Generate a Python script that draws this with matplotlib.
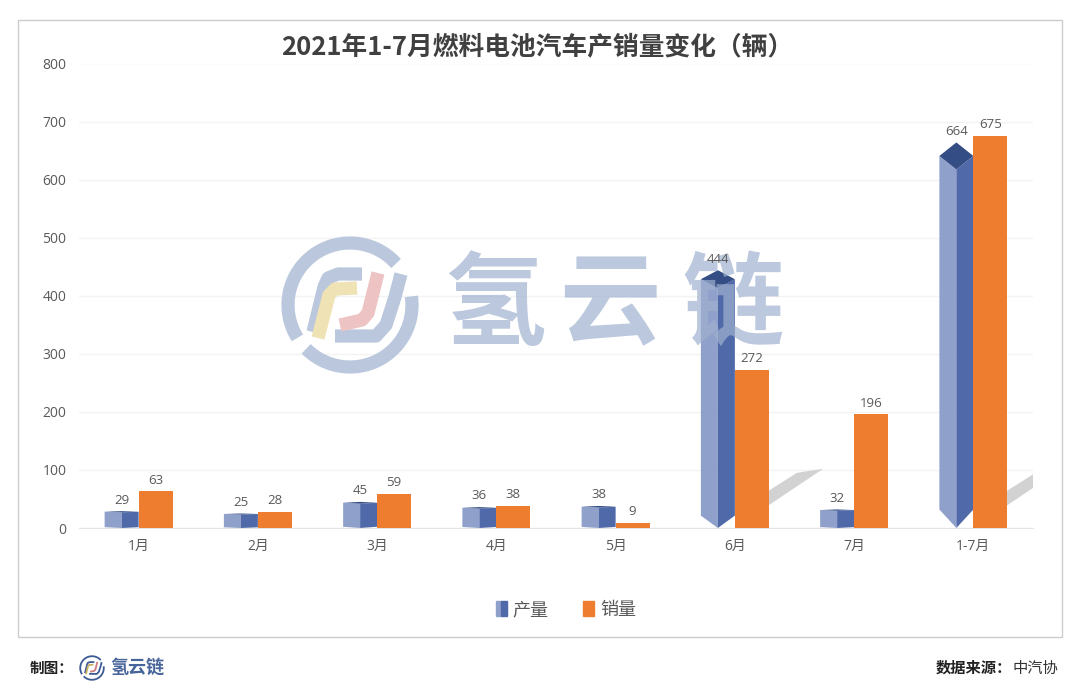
import matplotlib
matplotlib.use('Agg')
import numpy as np
import matplotlib.pyplot as plt
from matplotlib.patches import Patch, Rectangle
from matplotlib.legend_handler import HandlerTuple

plt.rcParams['font.family'] = ['Noto Sans CJK SC', 'DejaVu Sans']

# === data ===
months = ['1月', '2月', '3月', '4月', '5月', '6月', '7月', '1-7月']
production = [29, 25, 45, 36, 38, 444, 32, 664]
sales = [63, 28, 59, 38, 9, 272, 196, 675]
y_ticks = [0, 100, 200, 300, 400, 500, 600, 700, 800]

W, H = 1080, 697
GREY = '#595959'
ORANGE = '#ee7d2f'
BLUE_LIGHT = '#8fa0ca'
BLUE_MID = '#5069a9'
BLUE_TOP = '#354d85'
MARK = '#bac7dd'
BAR_W = 34 / 119.25
NUM_FONT = ['Open Sans', 'Noto Sans CJK SC']


def px_axes(fig, left, top, right, bottom, **kw):
    return fig.add_axes([left / W, 1 - bottom / H, (right - left) / W, (bottom - top) / H], **kw)


def draw_logo(ax, cx, cy, s, ring, yellow, pink, lw, zorder=5):
    # logo strokes, offsets in px of the big watermark version
    def stroke(pts, color):
        xs = [cx + p[0] * s for p in pts]
        ys = [cy + p[1] * s for p in pts]
        ax.plot(xs, ys, color=color, lw=lw, solid_capstyle='butt', solid_joinstyle='round', zorder=zorder)

    t = np.radians(np.linspace(42, 212, 60))
    stroke(list(zip(62 * np.cos(t), -62 * np.sin(t))), ring)
    t = np.radians(np.linspace(225, 368, 60))
    stroke(list(zip(62 * np.cos(t), -62 * np.sin(t))), ring)
    stroke([(-37, 27), (-26, -18), (-22, -27), (-12, -31), (12, -31)], ring)
    stroke([(51, -31), (45, -8), (36, 20), (26, 31), (-15, 31)], ring)
    stroke([(-32, 33), (-21, -10), (-15, -16), (7, -17)], yellow)
    stroke([(28, -32), (18, 8), (12, 15), (-10, 20)], pink)


fig = plt.figure(figsize=(W / 100, H / 100), dpi=100, facecolor='white')

# frame
bg = fig.add_axes([0, 0, 1, 1])
bg.set_xlim(0, W)
bg.set_ylim(H, 0)
bg.axis('off')
bg.add_patch(Rectangle((18, 20), 1044, 617, fc='white', ec='#cccccc', lw=1))

# === main chart ===
ax = px_axes(fig, 79, 63.5, 1033, 528)
ax.patch.set_alpha(0)
ax.set_xlim(-0.5, len(months) - 0.5)
ax.set_ylim(0, 800)
ax.set_yticks(y_ticks)
ax.set_xticks(range(len(months)))
ax.set_xticklabels(months)
ax.tick_params(length=0, labelsize=10, labelcolor=GREY)
ax.tick_params(axis='x', pad=8)
ax.tick_params(axis='y', pad=9)
for lab in ax.get_yticklabels() + ax.get_xticklabels():
    lab.set_family(NUM_FONT)
ax.grid(axis='y', color='#f3f3f3', lw=1)
ax.set_axisbelow(True)
for name in ['top', 'left', 'right']:
    ax.spines[name].set_visible(False)
ax.spines['bottom'].set_color('#e4e4e4')

for i, p in enumerate(production):
    x0, xm, x1 = i - BAR_W, i - BAR_W / 2, i
    up = 0.035 * p
    down = 0.048 * p
    # diamond section column: the two visible faces and the cap
    ax.fill([x0, xm, xm, x0], [down, 0, p - 2 * up, p - up], color=BLUE_LIGHT, lw=0, zorder=3)
    ax.fill([xm, x1, x1, xm], [0, down, p - up, p - 2 * up], color=BLUE_MID, lw=0, zorder=3)
    ax.fill([x0, xm, x1, xm], [p - up, p, p - up, p - 2 * up], color=BLUE_TOP, lw=0, zorder=3)

    # cast shadow of the two tall columns
    if p > 400:
        ax.fill([i, i + 0.29, i + 0.52, i + 0.74, i + 0.29],
                [0, 65, 95, 102, 40], color='#d2d2d2', lw=0, zorder=2)

ax.bar([i + BAR_W / 2 for i in range(len(months))], sales, width=BAR_W, color=ORANGE, zorder=4)

# legend
handles = [(Patch(color=BLUE_LIGHT), Patch(color=BLUE_MID)), Patch(color=ORANGE)]
fig.legend(handles, ['产量', '销量'], handler_map={tuple: HandlerTuple(ndivide=None, pad=0)},
           loc='center', bbox_to_anchor=(566 / W, 1 - 610 / H), ncol=2, frameon=False,
           fontsize=13, labelcolor=GREY, handlelength=0.62, handleheight=0.9,
           handletextpad=0.33, columnspacing=1.9)

# === watermark, above the columns so they tint through ===
top = fig.add_axes([0, 0, 1, 1])
top.set_xlim(0, W)
top.set_ylim(H, 0)
top.axis('off')
top.patch.set_alpha(0)
draw_logo(top, 350, 305, 1, MARK, '#efe2b5', '#eec3c4', 9.5)
for ch, cx in zip('氢云链', [495, 610, 733]):
    top.text(cx, 307, ch, ha='center', va='center', fontsize=73, fontweight='bold',
             color='#9fb1cf', alpha=0.7, zorder=5)

# data labels stay readable over the watermark
for i, (p, s) in enumerate(zip(production, sales)):
    top.text(i - BAR_W / 2, p + 8, str(p), transform=ax.transData, ha='center', va='bottom',
             fontsize=9.5, color=GREY, family=NUM_FONT, zorder=7)
    top.text(i + BAR_W / 2, s + 8, str(s), transform=ax.transData, ha='center', va='bottom',
             fontsize=9.5, color=GREY, family=NUM_FONT, zorder=7)

# === title and footer ===
top.text(537, 47, '2021年1-7月燃料电池汽车产销量变化（辆）', ha='center', va='center',
         fontsize=18.5, fontweight='bold', color='#404040')
top.text(30, 668, '制图：', ha='left', va='center', fontsize=10.5, fontweight='bold', color='#222222')
draw_logo(top, 92, 668, 0.19, '#3c5a94', '#c9b060', '#d07a7a', 1.3)
top.text(137, 667, '氢云链', ha='center', va='center', fontsize=13, fontweight='bold', color='#47659b')
top.text(1012, 668, '数据来源：', ha='right', va='center', fontsize=11, fontweight='bold', color='#222222')
top.text(1058, 668, '中汽协', ha='right', va='center', fontsize=11, color='#333333')

fig.savefig('out.png', dpi=100)
